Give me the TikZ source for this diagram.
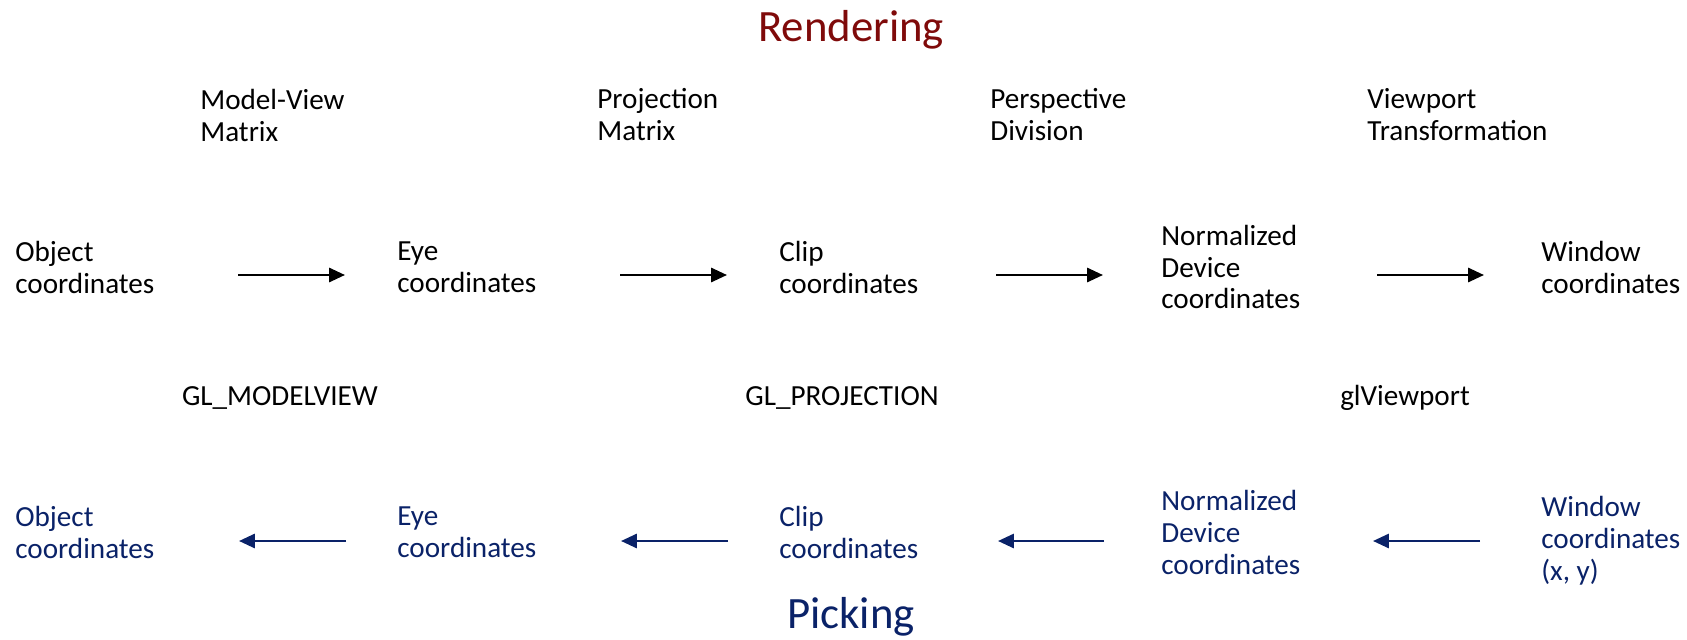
\documentclass[tikz,border=0pt]{standalone}
\usepackage{fontspec}
\setmainfont{Carlito}
\usepackage{tikz}
\usetikzlibrary{arrows.meta}
\definecolor{rendred}{HTML}{7F0A0A}
\definecolor{pickblue}{HTML}{0A2268}
\tikzstyle{lbl} = [anchor=west, inner sep=0pt, align=left, font=\fontsize{16.6}{18.2}\selectfont]
\tikzstyle{title} = [inner sep=0pt, font=\fontsize{25.5}{28}\selectfont]
\tikzstyle{fwd} = [line width=1.4pt, -{Triangle[length=9pt,width=8pt]}]
\tikzstyle{bwd} = [line width=1.4pt, pickblue, -{Triangle[length=9pt,width=8pt]}]

\begin{document}
\begin{tikzpicture}[x=0.02cm, y=-0.02cm]
    \useasboundingbox (0,0) rectangle (1687,639);

    % titles
    \node[title, text=rendred] (rendering) at (851,30) {Rendering};
    \node[title, text=pickblue] (picking) at (851,617) {Picking};

    % matrices and steps
    \node[lbl] (mv) at (200,115) {Model-View\\Matrix};
    \node[lbl] (pm) at (597,115) {Projection\\Matrix};
    \node[lbl] (pd) at (990,115) {Perspective\\Division};
    \node[lbl] (vt) at (1367,115) {Viewport\\Transformation};
    \node[lbl, anchor=center] (glmv) at (280,398) {GL\_MODELVIEW};
    \node[lbl, anchor=center] (glpr) at (842,398) {GL\_PROJECTION};
    \node[lbl, anchor=center] (glvp) at (1405,398) {glViewport};

    % rendering row
    \node[lbl] (obj) at (15,267) {Object\\coordinates};
    \node[lbl] (eye) at (397,267) {Eye\\coordinates};
    \node[lbl] (clip) at (779,267) {Clip\\coordinates};
    \node[lbl] (ndc) at (1161,267) {Normalized\\Device\\coordinates};
    \node[lbl] (win) at (1541,267) {Window\\coordinates};

    % picking row
    \node[lbl, text=pickblue] (pobj) at (15,532) {Object\\coordinates};
    \node[lbl, text=pickblue] (peye) at (397,532) {Eye\\coordinates};
    \node[lbl, text=pickblue] (pclip) at (779,532) {Clip\\coordinates};
    \node[lbl, text=pickblue] (pndc) at (1161,532) {Normalized\\Device\\coordinates};
    \node[lbl, text=pickblue] (pwin) at (1541,541) {Window\\coordinates\\(x, y)};

    % arrow ends
    \coordinate (r1) at (238,275);  \coordinate (r2) at (345,275);
    \coordinate (r3) at (620,275);  \coordinate (r4) at (727,275);
    \coordinate (r5) at (996,275);  \coordinate (r6) at (1103,275);
    \coordinate (r7) at (1377,275); \coordinate (r8) at (1484,275);
    \coordinate (p1) at (239,541);  \coordinate (p2) at (346,541);
    \coordinate (p3) at (621,541);  \coordinate (p4) at (728,541);
    \coordinate (p5) at (998,541);  \coordinate (p6) at (1104,541);
    \coordinate (p7) at (1373,541); \coordinate (p8) at (1480,541);

    % draw arrows
    \draw[fwd] (r1) -- (r2);
    \draw[fwd] (r3) -- (r4);
    \draw[fwd] (r5) -- (r6);
    \draw[fwd] (r7) -- (r8);
    \draw[bwd] (p2) -- (p1);
    \draw[bwd] (p4) -- (p3);
    \draw[bwd] (p6) -- (p5);
    \draw[bwd] (p8) -- (p7);
\end{tikzpicture}
\end{document}
